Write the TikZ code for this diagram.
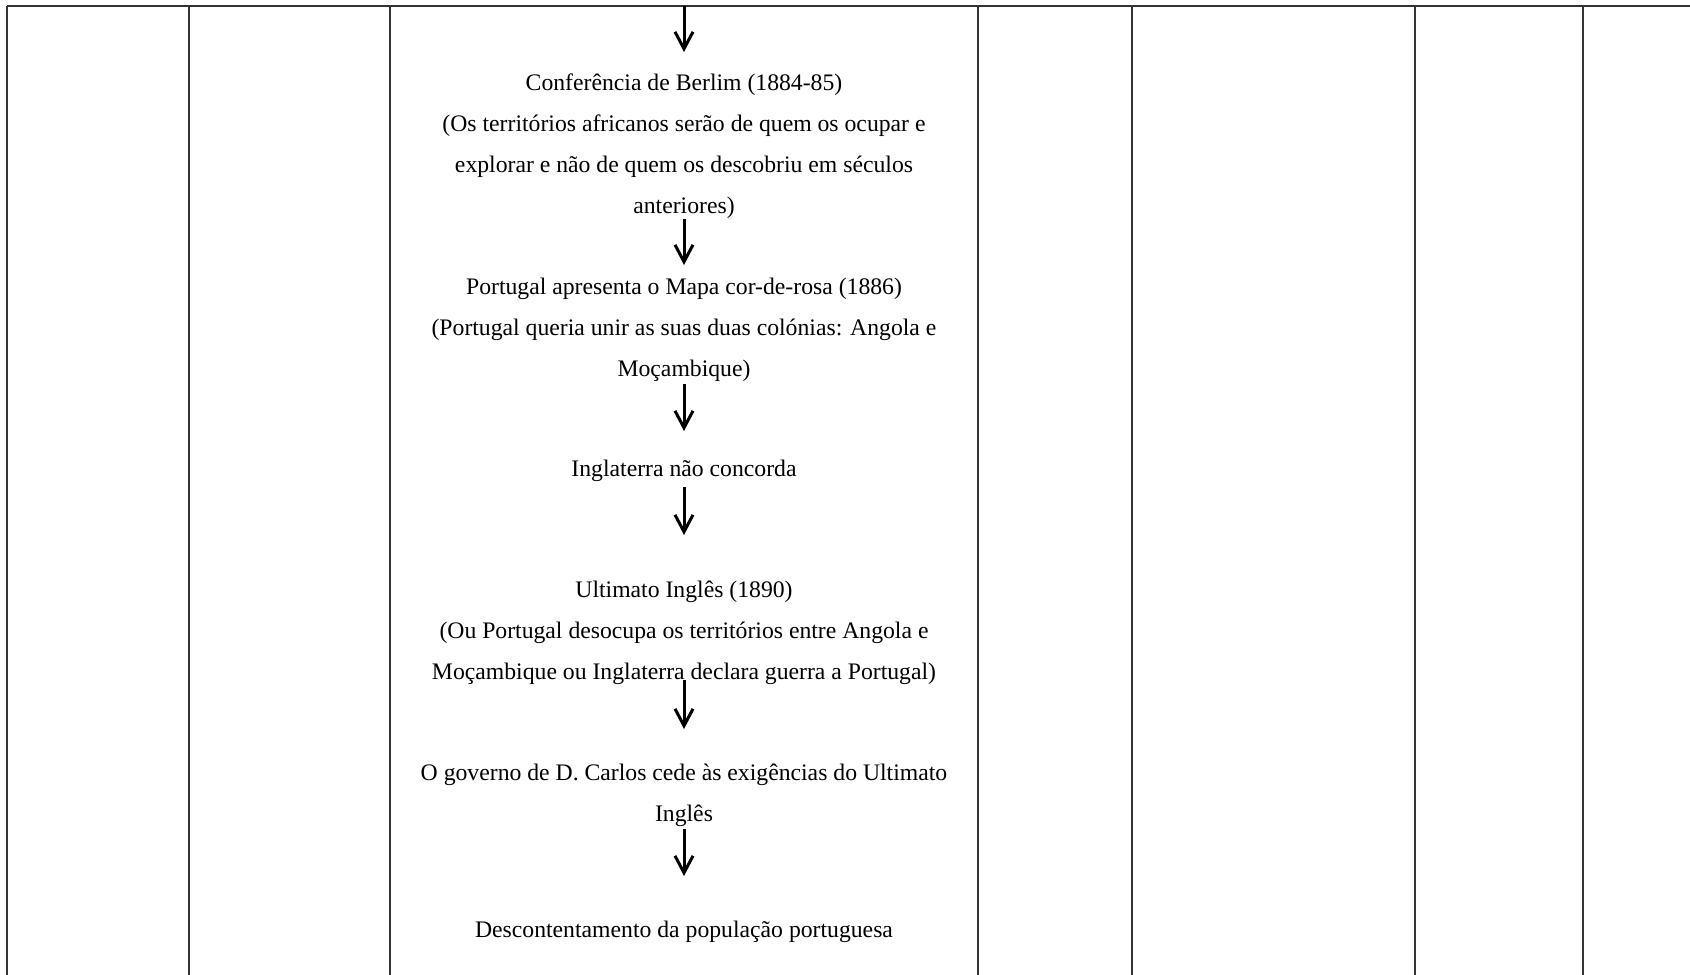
\documentclass[tikz,border=0pt]{standalone}
\usepackage{fontspec}
\setmainfont{Liberation Serif}
\usetikzlibrary{arrows.meta}
\tikzset{
	every path/.style={line width=1pt},
	grid/.style={
		draw=black!80,
		line width=1pt,
	},
	event/.style={
		align=center,
		inner sep=0pt,
		anchor=north,
		font=\fontsize{11.85}{20.5}\selectfont,
	},
	flow/.style={
		line width=1.5pt,
		-{Straight Barb[length=8.5pt,width=9pt]}
	},
}

\begin{document}
\begin{tikzpicture}[x=0.5pt,y=-0.5pt]
	\useasboundingbox (0,0) rectangle (1690,974);

	% table lines
	\draw[grid] (7,6) -- (1690,6);
	\foreach \x in {7,189,389.5,978,1131.6,1415,1582.5}
		\draw[grid] (\x,6) -- (\x,980);

	\coordinate (topin) at (684,6);

	\node[event] (berlim) at (684,72.5) {Conferência de Berlim (1884-85)\\(Os territórios africanos serão de quem os ocupar e\\explorar e não de quem os descobriu em séculos\\anteriores)};
	\node[event] (mapa) at (684,277.5) {Portugal apresenta o Mapa cor-de-rosa (1886)\\(Portugal queria unir as suas duas colónias: Angola e\\Moçambique)};
	\node[event] (inglat) at (684,459.5) {Inglaterra não concorda};
	\node[event] (ultim) at (684,580.5) {Ultimato Inglês (1890)\\(Ou Portugal desocupa os territórios entre Angola e\\Moçambique ou Inglaterra declara guerra a Portugal)};
	\node[event] (governo) at (684,762.5) {O governo de D. Carlos cede às exigências do Ultimato\\Inglês};
	\node[event] (descont) at (684,920.5) {Descontentamento da população portuguesa};

	\draw[flow, shorten >=10.25pt] (topin) -- (berlim);
	\draw[flow, shorten <=0pt, shorten >=6.25pt] (berlim) -- (mapa);
	\draw[flow, shorten <=0.5pt, shorten >=14.25pt] (mapa) -- (inglat);
	\draw[flow, shorten <=2pt, shorten >=22.75pt] (inglat) -- (ultim);
	\draw[flow, shorten <=-3pt, shorten >=16.75pt] (ultim) -- (governo);
	\draw[flow, shorten <=1pt, shorten >=22.25pt] (governo) -- (descont);

\end{tikzpicture}
\end{document}
